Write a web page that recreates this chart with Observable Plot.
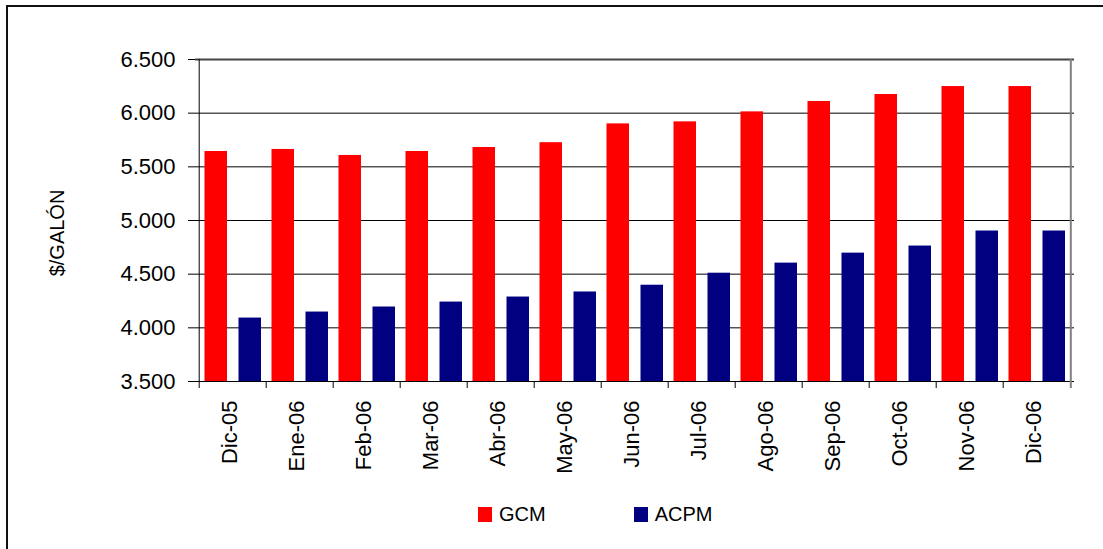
<!DOCTYPE html>
<html>
<head>
<meta charset="utf-8">
<script src="https://cdn.jsdelivr.net/npm/d3@7"></script>
<script src="https://cdn.jsdelivr.net/npm/@observablehq/plot@0.6"></script>
<style>
  html, body { margin: 0; padding: 0; background: #fff; }
  body { width: 1103px; height: 549px; position: relative; overflow: hidden; font-family: "Liberation Sans", Arial, sans-serif; color: #000; }
  #frame { position: absolute; left: 6px; top: 5px; width: 1200px; height: 700px; border-left: 2px solid #111; border-top: 2px solid #111; box-sizing: border-box; z-index: 2; pointer-events: none; }
  #chart { position: absolute; left: 0; top: 0; z-index: 1; }
  #ylabel { position: absolute; left: 57px; top: 233px; transform: translate(-50%, -50%) rotate(-90deg); font-size: 20px; white-space: nowrap; z-index: 3; }
  #legend { position: absolute; left: 478px; top: 503px; display: flex; align-items: center; font-size: 20px; z-index: 3; }
  .item { display: flex; align-items: center; }
  .sw { width: 14px; height: 15px; margin-right: 7px; }
</style>
</head>
<body>
<div id="chart"></div>
<div id="frame"></div>
<div id="ylabel">$/GALÓN</div>
<div id="legend"></div>
<script>
const months = ["Dic-05","Ene-06","Feb-06","Mar-06","Abr-06","May-06","Jun-06","Jul-06","Ago-06","Sep-06","Oct-06","Nov-06","Dic-06"];
const gcm  = [5643, 5662, 5606, 5643, 5680, 5725, 5900, 5919, 6012, 6109, 6174, 6248, 6248];
const acpm = [4091, 4147, 4194, 4240, 4287, 4334, 4397, 4509, 4603, 4696, 4762, 4902, 4902];
const seriesNames = ["GCM", "ACPM"];
const seriesColors = ["#FF0000", "#000080"];
const yTicks = [3500, 4000, 4500, 5000, 5500, 6000, 6500];

const W = 1103, H = 480, mL = 195, mR = 29, mT = 59, mB = H - 381;
const step = (W - mL - mR) / months.length;

const gData = months.map((m, i) => ({month: m, value: gcm[i]}));
const aData = months.map((m, i) => ({month: m, value: acpm[i]}));

const loc = d3.formatLocale({decimal: ",", thousands: ".", grouping: [3], currency: ["$", ""]});
const fmt = loc.format(",.0f");

const chart = Plot.plot({
  width: W, height: H,
  marginLeft: mL, marginRight: mR, marginTop: mT, marginBottom: mB,
  style: {fontFamily: "'Liberation Sans', Arial, sans-serif", fontSize: "22px", background: "transparent", color: "#000"},
  x: {type: "band", domain: months, padding: 0, label: null},
  y: {domain: [3500, 6500], label: null},
  marks: [
    Plot.gridY(yTicks, {stroke: "#000", strokeOpacity: 1}),
    Plot.barY(gData, {x: "month", y1: 3500, y2: "value", fill: seriesColors[0], insetLeft: 5.5, insetRight: 39}),
    Plot.barY(aData, {x: "month", y1: 3500, y2: "value", fill: seriesColors[1], insetLeft: 39.5, insetRight: 5}),
    Plot.ruleY([6500], {stroke: "#444", strokeWidth: 2}),
    Plot.ruleY([3500], {stroke: "#000"}),
    Plot.ruleX([months[0]], {stroke: "#000", dx: -step / 2}),
    Plot.ruleX([months[months.length - 1]], {stroke: "#808080", strokeWidth: 2, dx: step / 2}),
    Plot.axisX({tickSize: 7, tickFormat: () => "", dx: -step / 2, stroke: "#000", label: null}),
    Plot.axisX([months[months.length - 1]], {tickSize: 7, tickFormat: () => "", dx: step / 2, stroke: "#808080", strokeWidth: 2, label: null}),
    Plot.axisX({tickSize: 0, tickRotate: -90, tickPadding: 19, fontSize: 22, label: null, dx: -3}),
    Plot.axisY(yTicks, {tickSize: 7, tickPadding: 13, tickFormat: fmt, fontSize: 22, label: null})
  ]
});
document.getElementById("chart").appendChild(chart);

const legend = document.getElementById("legend");
seriesNames.forEach((name, i) => {
  const it = document.createElement("div");
  it.className = "item";
  if (i > 0) it.style.marginLeft = "88px";
  const sw = document.createElement("div");
  sw.className = "sw";
  sw.style.background = seriesColors[i];
  const t = document.createElement("span");
  t.textContent = name;
  it.appendChild(sw); it.appendChild(t);
  legend.appendChild(it);
});
</script>
</body>
</html>
